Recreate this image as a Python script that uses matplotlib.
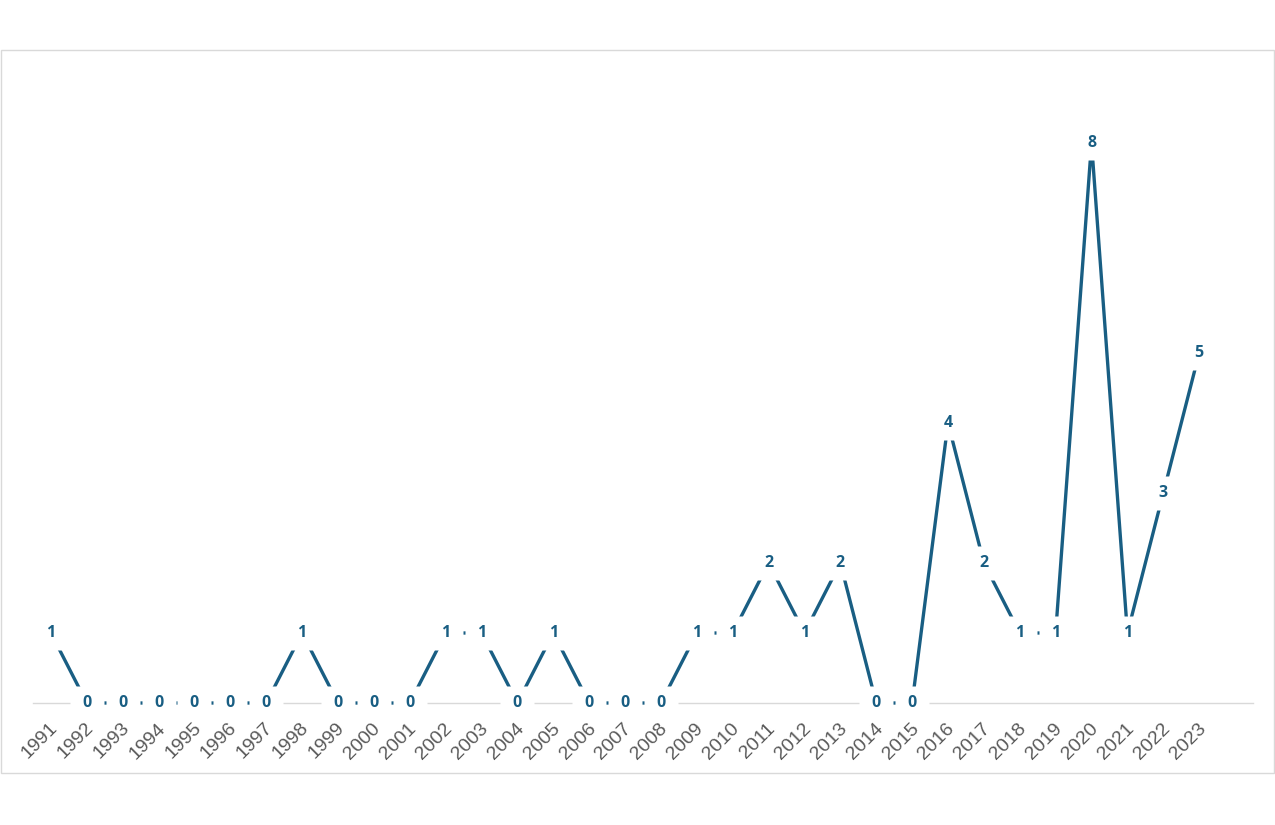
import matplotlib
matplotlib.use("Agg")
import matplotlib.pyplot as plt
from matplotlib.patches import Rectangle
from matplotlib.transforms import ScaledTranslation

years = ["1991", "1992", "1993", "1994", "1995", "1996", "1997", "1998", "1999", "2000",
         "2001", "2002", "2003", "2004", "2005", "2006", "2007", "2008", "2009", "2010",
         "2011", "2012", "2013", "2014", "2015", "2016", "2017", "2018", "2019", "2020",
         "2021", "2022", "2023"]
counts = [1, 0, 0, 0, 0, 0, 0, 1, 0, 0,
          0, 1, 1, 0, 1, 0, 0, 0, 1, 1,
          2, 1, 2, 0, 0, 4, 2, 1, 1, 8,
          1, 3, 5]

LINE = "#195E83"
GRID = "#D9D9D9"
TICK = "#595959"

plt.rcParams["font.family"] = ["Liberation Sans", "DejaVu Sans"]

fig = plt.figure(figsize=(12.75, 8.25), dpi=100)
fig.patches.append(Rectangle((0.001, 0.063), 0.998, 0.8764, transform=fig.transFigure,
                             fill=False, edgecolor=GRID, linewidth=1.0))

ax = fig.add_axes([0.02588, 0.14788, 0.95687, 0.76362])
x = list(range(len(years)))
ax.axhline(0, color=GRID, linewidth=1.0, zorder=1, clip_on=False)
ax.plot(x, counts, color=LINE, linewidth=2.4, zorder=2, solid_capstyle="butt", clip_on=False)
ax.plot(x, counts, linestyle="none", marker="s", markersize=24.5,
        markerfacecolor="white", markeredgecolor="none", zorder=3, clip_on=False)
for xi, v in zip(x, counts):
    ax.text(xi, v, str(v), ha="center", va="center", fontsize=11.5, fontweight="bold",
            color=LINE, zorder=4, family=["Open Sans", "DejaVu Sans"])

ax.set_xlim(-0.5, 33.5)
ax.set_ylim(0, 9)
ax.set_xticks(x)
ax.set_xticklabels(years, rotation=45, ha="right", va="top", rotation_mode="anchor",
                   fontsize=14, color=TICK)
ax.tick_params(axis="x", length=0, pad=12)
shift = ScaledTranslation(-2 / 100, 0, fig.dpi_scale_trans)
for lab in ax.get_xticklabels():
    lab.set_transform(lab.get_transform() + shift)
ax.xaxis.set_zorder(5)
ax.set_yticks([])
for s in ax.spines.values():
    s.set_visible(False)
ax.patch.set_alpha(0)

fig.savefig("out.png", dpi=100)
